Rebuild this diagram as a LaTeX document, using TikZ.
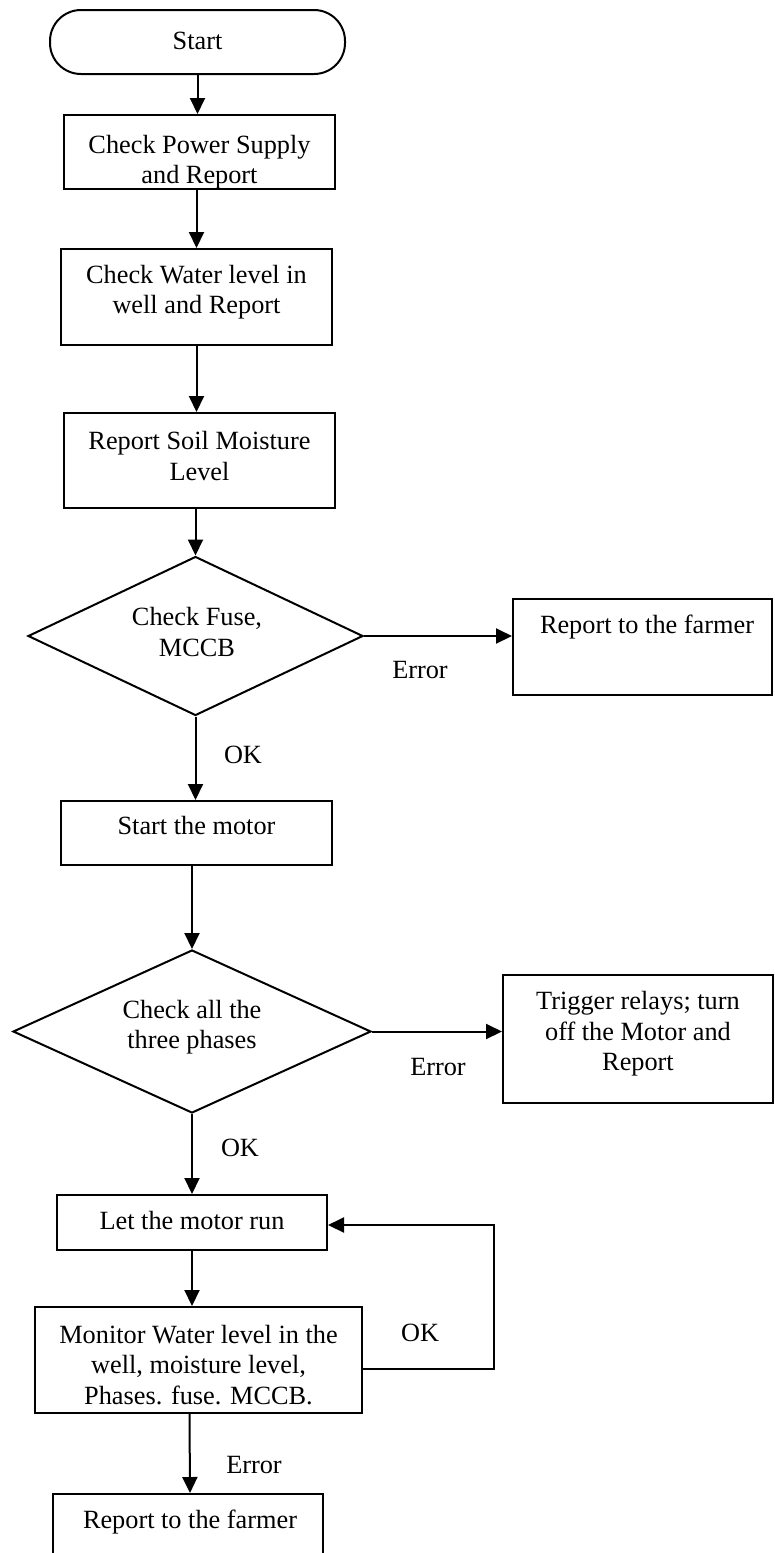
\documentclass[tikz,border=0pt]{standalone}
\usepackage{fontspec}
\setmainfont{Liberation Serif}
\usetikzlibrary{shapes.geometric,arrows.meta,calc}
\newcommand\figfont{\fontsize{26.3}{30.5}\selectfont}
\begin{document}
\begin{tikzpicture}[x=1pt,y=-1pt,
  box/.style={draw, line width=2pt, rectangle, inner sep=0pt},
  dia/.style={draw, line width=2pt, diamond, inner sep=0pt},
  txt/.style={font=\figfont, align=center, inner sep=0pt},
  lbl/.style={font=\figfont, inner sep=0pt, text height=17.9pt, text depth=5.8pt},
  arr/.style={line width=2pt, -{Triangle[length=16pt,width=15pt]}}]
\useasboundingbox (0,0) rectangle (774,1553);
\clip (0,0) rectangle (774,1553);
% shapes
\node[box, rounded corners=31pt, minimum width=295pt, minimum height=64pt] (start) at (197.5,42) {};
\node[box, minimum width=271pt, minimum height=74pt] (b1) at (199.5,152) {};
\node[box, minimum width=271pt, minimum height=96pt] (b2) at (196.5,297) {};
\node[box, minimum width=271pt, minimum height=95pt] (b3) at (199.5,460.5) {};
\node[dia, minimum width=335pt, minimum height=159pt] (d1) at (195.5,636) {};
\node[box, minimum width=259pt, minimum height=96pt] (r1) at (642.5,647) {};
\node[box, minimum width=271pt, minimum height=64pt] (sm) at (196.5,833) {};
\node[dia, minimum width=358pt, minimum height=163pt] (d2) at (192,1031.5) {};
\node[box, minimum width=270pt, minimum height=128pt] (tr) at (638,1039) {};
\node[box, minimum width=270pt, minimum height=55pt] (let) at (192,1222.5) {};
\node[box, minimum width=327pt, minimum height=106pt] (mon) at (198.5,1360) {};
\node[box, minimum width=270pt, minimum height=90pt] (fin) at (188,1539) {};
% texts
\node[lbl] (startt) at (197.5,43) {Start};
\begin{scope}
\clip (b1.south west) rectangle (b1.north east);
\node[txt] (b1t) at (199.5,162) {Check Power Supply\\and Report};
\end{scope}
\node[txt] (b2t) at (196.5,292) {Check Water level in\\well and Report};
\node[txt] (b3t) at (199.5,456) {Report Soil Moisture\\Level};
\node[txt] (d1t) at (197,632) {Check Fuse,\\MCCB};
\node[lbl] (r1t) at (647,627) {Report to the farmer};
\node[lbl] (smt) at (196.5,828) {Start the motor};
\node[txt] (d2t) at (192,1027) {Check all the\\three phases};
\node[txt] (trt) at (638,1034) {Trigger relays; turn\\off the Motor and\\Report};
\node[lbl] (lett) at (192,1223) {Let the motor run};
\node[txt] (mont) at (198.5,1365) {Monitor Water level in the\\well, moisture level,\\Phases. fuse. MCCB.};
\node[lbl] (fint) at (190,1522) {Report to the farmer};
% edge labels
\node[lbl] (e1) at (420,672) {Error};
\node[lbl] (ok1) at (243,757) {OK};
\node[lbl] (e2) at (438,1069) {Error};
\node[lbl] (ok2) at (240,1150) {OK};
\node[lbl] (ok3) at (420,1335) {OK};
\node[lbl] (e3) at (254,1467) {Error};
% connectors
\draw[arr] (start.south) -- (start.south |- b1.north);
\draw[arr] (b2.north |- b1.south) -- (b2.north);
\draw[arr] (b2.south) -- (b2.south |- b3.north);
\draw[arr] (d1.north |- b3.south) -- (d1.north);
\draw[arr] (d1.east) -- (d1.east -| r1.west);
\draw[arr] (d1.south) -- (d1.south |- sm.north);
\draw[arr] (d2.north |- sm.south) -- (d2.north);
\draw[arr] (d2.east) -- (d2.east -| tr.west);
\draw[arr] (d2.south) -- (d2.south |- let.north);
\draw[arr] (let.south) -- (let.south |- mon.north);
\draw[arr] ([yshift=-9pt]mon.east) -- ++(131,0) |- ([yshift=-2.5pt]let.east);
\draw[arr] ([xshift=-9pt]mon.south) -- ([xshift=2pt]fin.north);
\end{tikzpicture}
\end{document}
